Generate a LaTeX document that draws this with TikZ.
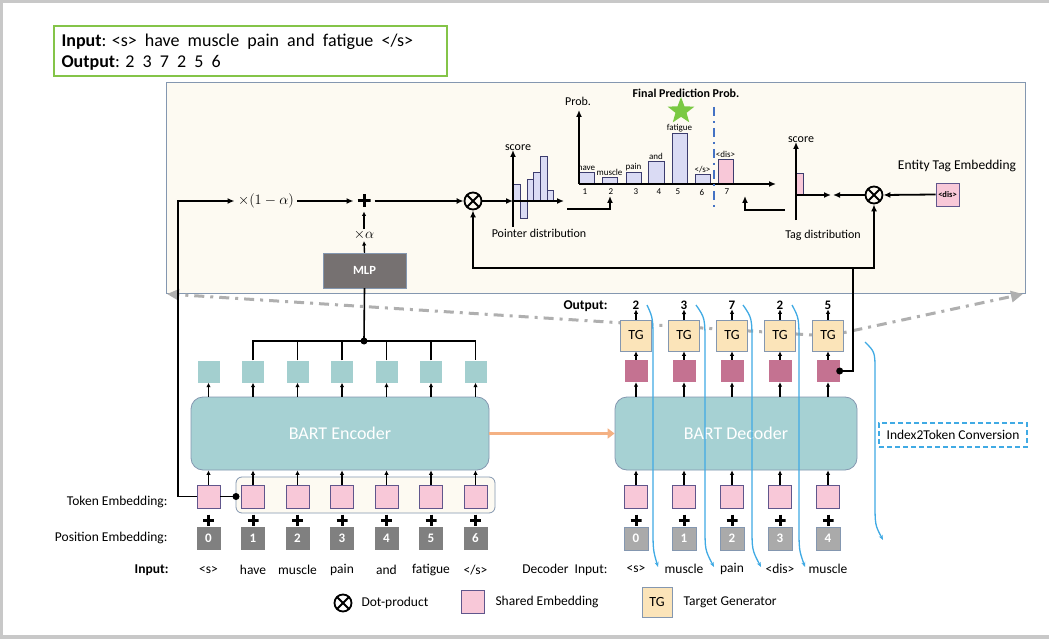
\documentclass[tikz,border=0pt]{standalone}
\usepackage{fontspec}
\setmainfont{Carlito}
\usetikzlibrary{arrows.meta,shapes.geometric}
\newcommand{\fsz}[1]{\fontsize{#1}{#1}\selectfont}
\definecolor{framegray}{RGB}{200,200,200}
\definecolor{boxgreen}{RGB}{132,196,72}
\definecolor{panelbg}{RGB}{253,250,242}
\definecolor{panelline}{RGB}{132,151,176}
\definecolor{tealbox}{RGB}{163,207,207}
\definecolor{encfill}{RGB}{166,209,211}
\definecolor{pinkbox}{RGB}{248,200,216}
\definecolor{pinkline}{RGB}{96,86,140}
\definecolor{magbox}{RGB}{196,114,145}
\definecolor{tgfill}{RGB}{251,228,185}
\definecolor{posdark}{RGB}{128,128,128}
\definecolor{poslight}{RGB}{170,170,170}
\definecolor{mlpgray}{RGB}{118,113,113}
\definecolor{barfill}{RGB}{218,219,244}
\definecolor{bardraw}{RGB}{60,60,110}
\definecolor{orangearr}{RGB}{244,177,131}
\definecolor{convblue}{RGB}{64,170,228}
\definecolor{splitblue}{RGB}{68,114,196}
\definecolor{stargreen}{RGB}{122,201,67}
\definecolor{zoomgray}{RGB}{175,175,175}
\begin{document}
\begin{tikzpicture}[x=1pt,y=-1pt,
	arr/.style={line width=1.8pt,-{Latex[length=7pt,width=6pt]}},
	sarr/.style={line width=1.4pt,-{Latex[length=4.5pt,width=4.5pt]}},
	conn/.style={line width=1.6pt},
	emb/.style={draw=pinkline,fill=pinkbox,line width=0.7pt,minimum width=23pt,minimum height=23pt,inner sep=0pt},
	hid/.style={fill=tealbox,minimum width=22pt,minimum height=22pt,inner sep=0pt},
	dhid/.style={fill=magbox,minimum width=23pt,minimum height=22pt,inner sep=0pt},
	posbox/.style={fill=posdark,text=white,minimum width=24pt,minimum height=23pt,inner sep=0pt,font=\fsz{13}\bfseries},
	dposbox/.style={posbox,fill=poslight,draw=panelline,line width=0.7pt},
	tgbox/.style={draw=panelline,fill=tgfill,line width=0.7pt,minimum width=31pt,minimum height=31pt,inner sep=0pt,font=\fsz{14}},
	bart/.style={draw=panelline,fill=encfill,line width=0.8pt,rounded corners=12pt,text=white,font=\fsz{18},minimum height=73pt},
	otimes/.style={circle,draw,line width=1.8pt,minimum size=17pt,inner sep=0pt,
		path picture={\draw[line width=1.8pt] (path picture bounding box.north west) -- (path picture bounding box.south east)
			(path picture bounding box.north east) -- (path picture bounding box.south west);}},
	plussign/.style={minimum size=11pt,inner sep=0pt,
		path picture={\draw[line width=3pt] (path picture bounding box.west) -- (path picture bounding box.east)
			(path picture bounding box.north) -- (path picture bounding box.south);}},
	lbl/.style={font=\fsz{13.5}},
	tiny/.style={font=\fsz{9},inner sep=1pt},
	bar/.style={draw=bardraw,fill=barfill,line width=0.7pt},
	curve/.style={draw=convblue,line width=1.3pt,-{Stealth[length=5pt,width=4pt]}},
	zoomline/.style={draw=zoomgray,line width=3pt,dash pattern=on 10pt off 6pt on 3pt off 6pt,-{Triangle[length=12pt,width=11pt]}}
	]
	\fill[framegray] (0,0) rectangle (1049,639);
	\fill[white] (3,3) rectangle (1049,635);
	\useasboundingbox (0,0) rectangle (1049,639);
	
	% example
	\draw[boxgreen,line width=2.5pt] (54,26) rectangle (447,76);
	\node[anchor=west,font=\fsz{18}] (ex1) at (58,42) {\textbf{Input}: <s>\ \ have\ \ muscle\ \ pain\ \ and\ \ fatigue\ \ </s>};
	\node[anchor=west,font=\fsz{18}] (ex2) at (58,63) {\textbf{Output}: 2\ \ 3\ \ 7\ \ 2\ \ 5\ \ 6};
	
	% pointer panel
	\draw[panelline,fill=panelbg,line width=0.8pt] (166,82) rectangle (1025,293);
	\draw[zoomline] (828,336) -- (167,294);
	\draw[zoomline] (828,336) -- (1023,294);
	
	\node (om) at (266,201) {\fsz{15}$\times(1-\alpha)$};
	\node[plussign,minimum size=13pt,outer sep=4pt] (plus) at (364,201) {};
	\node[otimes] (ot1) at (473,201) {};
	\node[otimes] (ot2) at (874,195) {};
	\node[fill=mlpgray,draw=panelline,minimum width=83pt,minimum height=35pt,text=white,font=\fsz{12.5}\bfseries] (mlp) at (364.5,270.5) {MLP};
	\node[inner sep=1pt] (xa) at (364,235) {\fsz{14}$\times\alpha$};
	\draw[sarr] (mlp.north) -- (xa.south);
	\draw[sarr] (xa.north) -- (plus.south);
	\draw[arr] (om.east) -- (plus.west);
	\draw[arr] (plus.east) -- (ot1.west);
	
	% pointer distribution
	\coordinate (po) at (513,201);
	\foreach \a/\b/\h in {513/520/184,520/527/218,527/533/179,533/540/172,540/547/156,547/553/190}
		\draw[bar] (\a,201) rectangle (\b,\h);
	\draw[arr] (ot1.east) -- (po);
	\draw[arr] (513,227) -- (513,150);
	\draw[arr] (po) -- (564,201);
	\node[font=\fsz{12}] (psc) at (518,148) {score};
	\node[font=\fsz{12}] (plab) at (539,233) {Pointer distribution};
	
	% final prediction
	\coordinate (fo) at (579,184);
	\foreach \a/\b/\h/\w in {579/594/172/have,602/617/177/muscle,626/641/172/pain,648/664/161/and,672/687/133/fatigue,695/710/174/{</s>}}{
		\draw[bar] (\a,184) rectangle (\b,\h);
		\node[tiny,anchor=south] at ({(\a+\b)/2},\h) {\w};
	}
	\draw[bar,fill=pinkbox] (718,184) rectangle (733,159);
	\node[tiny,anchor=south] at (725.5,159) {<dis>};
	\foreach \n/\x in {1/585,2/611,3/636,4/659,5/678,6/702,7/727}
		\node[tiny] at (\x,192) {\n};
	\draw[arr] (fo) -- (579,110);
	\draw[arr] (fo) -- (776,184);
	\draw[splitblue,line width=2.6pt,dash pattern=on 9pt off 5pt on 2pt off 5pt] (714,107) -- (714,208);
	\node[font=\fsz{12}] (prob) at (578,101) {Prob.};
	\node[font=\fsz{12}\bfseries] (fpp) at (686,93) {Final Prediction Prob.};
	\node[star,star points=5,star point ratio=2.4,fill=stargreen,minimum size=28pt,inner sep=0pt] (star) at (681,111) {};
	\draw[arr] (567,209) -| (610,196);
	\draw[arr] (785,210) -| (745,196);
	
	% tag distribution
	\coordinate (to) at (796,195);
	\draw[bar,fill=pinkbox] (796,195) rectangle (803,173);
	\draw[arr] (796,220) -- (796,142);
	\draw[arr] (to) -- (831,195);
	\node[font=\fsz{12}] (tsc) at (801,140) {score};
	\node[font=\fsz{12}] (tlab) at (823,235) {Tag distribution};
	\draw[arr] (ot2.west) -- (833,195);
	\node[emb,font=\fsz{8.5}\bfseries] (dis) at (947.5,194.5) {<dis>};
	\draw[arr] (dis.west) -- (ot2.east);
	\node[lbl] (ete) at (957,166) {Entity Tag Embedding};
	
	% encoder
	\node[bart,minimum width=298pt] (enc) at (340,433.5) {BART Encoder};
	\draw[panelline,fill=panelbg,line width=0.8pt,rounded corners=6pt] (236,477) rectangle (495,513);
	\foreach \i/\w in {0/<s>,1/have,2/muscle,3/pain,4/and,5/fatigue,6/{</s>}}{
		\node[hid] (h\i) at ({208.5+44.5*\i},371.5) {};
		\draw[sarr] (h\i.south |- enc.north) -- (h\i.south);
		\node[emb] (e\i) at ({208.5+44.5*\i},496.5) {};
		\draw[sarr] (e\i.north) -- (e\i.north |- enc.south);
		\node[plussign] at ({208.5+44.5*\i},520) {};
		\node[posbox] (p\i) at ({208.5+44.5*\i},538.5) {\i};
		\node[lbl] (w\i) at ({208.5+44.5*\i},570) {\w};
	}
	\coordinate (hub) at (364,341);
	\draw[conn] (mlp.south) -- (hub);
	\draw[conn] (h1.north) |- (hub) -| (h6.north);
	\foreach \i in {2,...,5}
		\draw[conn] (h\i.north) -- (h\i.north |- hub);
	\fill (hub) circle (3.5pt);
	\coordinate (gdot) at (236,496.5);
	\draw[conn] (e0.east) -- (gdot);
	\fill (gdot) circle (3.5pt);
	\draw[arr] (e0.west) -- (178,496.5) |- (om.west);
	
	% decoder
	\node[bart,minimum width=242pt] (dec) at (736,433.5) {BART Decoder};
	\draw[orangearr,line width=3.5pt,-{Triangle[length=7pt,width=10pt]}] (enc.east) -- (dec.west);
	\foreach \i/\o/\w in {0/2/<s>,1/3/muscle,2/7/pain,3/2/<dis>,4/5/muscle}{
		\node[dhid] (m\i) at ({636+48*\i},371) {};
		\node[tgbox] (g\i) at ({636+48*\i},335.5) {TG};
		\node[font=\fsz{13}\bfseries,inner sep=0pt] (o\i) at ({636+48*\i},305) {\o};
		\draw[sarr] (m\i.south |- dec.north) -- (m\i.south);
		\draw[sarr] (m\i.north) -- (g\i.south);
		\draw[sarr] (g\i.north) -- (o\i.south);
		\node[emb] (d\i) at ({636+48*\i},496.5) {};
		\draw[sarr] (d\i.north) -- (d\i.north |- dec.south);
		\node[plussign] at ({636+48*\i},520) {};
		\node[dposbox] (q\i) at ({636+48*\i},538.5) {\i};
		\node[lbl] (v\i) at ({636+48*\i},569) {\w};
	}
	\fill (m4.east) circle (3.5pt);
	\draw[conn] (m4.east) -| (853,268) coordinate (fork);
	\draw[arr] (fork) -| (ot1.south);
	\draw[arr] (fork) -| (ot2.south);
	
	% index to token
	\foreach \a/\m/\e in {647/653/658,696/705/714,743/752/761,792/799/805}
		\draw[curve] (\a,305) .. controls (\m,318) .. (\m,345) -- (\m,525) .. controls (\m,550) .. (\e,567);
	\draw[curve] (865,342) .. controls (875,352) .. (875,372) -- (875,500) .. controls (875,525) .. (883,540);
	\node[draw=convblue,line width=2pt,dash pattern=on 5pt off 3pt,minimum width=148pt,minimum height=24pt,font=\fsz{13.5}] (i2t) at (953,435) {Index2Token Conversion};
	
	% row labels
	\node[lbl,anchor=east] (tel) at (171,502) {Token Embedding:};
	\node[lbl,anchor=east] (pel) at (171,538) {Position Embedding:};
	\node[lbl,anchor=east,font=\fsz{13.5}\bfseries] (inl) at (172,570) {Input:};
	\node[lbl,anchor=east] (dil) at (611,570) {Decoder\ \ Input:};
	\node[lbl,anchor=east,font=\fsz{13.5}\bfseries] (oul) at (611,306) {Output:};
	
	% legend
	\node[otimes] (lg1) at (343,603) {};
	\node[lbl,anchor=west] at (358,603) {Dot-product};
	\node[emb] (lg2) at (473,602) {};
	\node[lbl,anchor=west] at (492,602) {Shared Embedding};
	\node[tgbox,minimum width=30pt,minimum height=30pt] (lg3) at (657,602) {TG};
	\node[lbl,anchor=west] at (680,602) {Target Generator};
\end{tikzpicture}
\end{document}
